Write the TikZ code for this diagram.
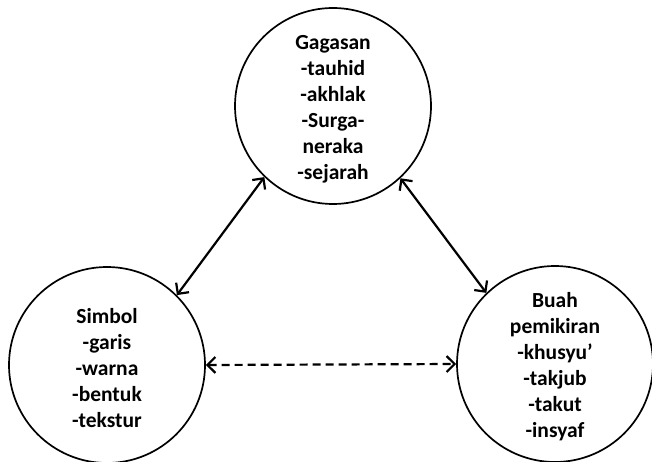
\documentclass[tikz,border=0pt]{standalone}
\usepackage{fontspec}
\setmainfont{Carlito}
\usetikzlibrary{arrows.meta}
\tikzset{
  bubble/.style={circle,draw,line width=1.7pt,minimum size=196pt,inner sep=0pt},
  txt/.style={align=center,font=\bfseries\fontsize{21.5}{26}\selectfont},
  link/.style={line width=2.2pt,{Straight Barb[length=8pt,width=16pt,line width=2.2pt]}-{Straight Barb[length=8pt,width=16pt,line width=2.2pt]}},
  dlink/.style={link,dash pattern=on 8pt off 5pt}
}
\begin{document}
\begin{tikzpicture}[x=1pt,y=-1pt]
\useasboundingbox (0,0) rectangle (652,462);
\node[bubble] (g) at (333,106) {};
\node[bubble] (s) at (107,365) {};
\node[bubble] (b) at (555,364) {};
\node[txt] (gt) at (333,109) {Gagasan\\-tauhid\\-akhlak\\-Surga-\\neraka\\-sejarah};
\node[txt] (st) at (107,368) {Simbol\\-garis\\-warna\\-bentuk\\-tekstur};
\node[txt] (bt) at (555,367) {Buah\\pemikiran\\-khusyu’\\-takjub\\-takut\\-insyaf};
\draw[link] (g.226) -- (s.45);
\draw[link] (g.313) -- (b.134);
\draw[dlink] (s.east) -- (b.west);
\end{tikzpicture}
\end{document}
